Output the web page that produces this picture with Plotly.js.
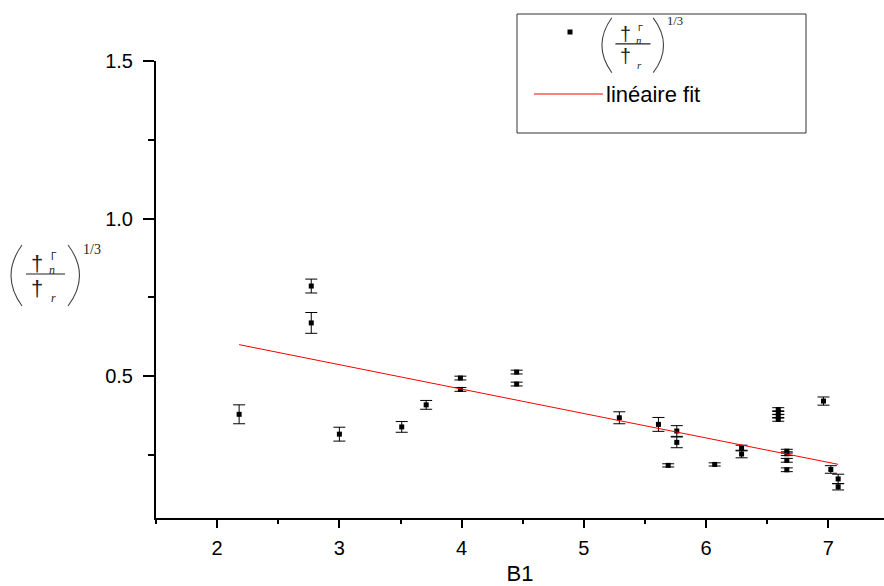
<!DOCTYPE html>
<html>
<head>
<meta charset="utf-8">
<script src="https://cdn.plot.ly/plotly-3.0.1.min.js"></script>
<style>html,body{margin:0;padding:0;background:#fff;}#chart{width:884px;height:586px;}</style>
</head>
<body>
<div id="chart"></div>
<script>
// ---- data ----
const xVals = [2.18, 2.77, 2.77, 3.00, 3.51, 3.71, 3.99, 3.99, 4.45, 4.45, 5.29, 5.61, 5.69, 5.76, 5.76, 6.07, 6.29, 6.29, 6.59, 6.59, 6.59, 6.59, 6.66, 6.66, 6.66, 6.66, 6.96, 7.02, 7.08, 7.08];
const yVals = [0.379, 0.786, 0.669, 0.316, 0.339, 0.409, 0.494, 0.458, 0.513, 0.475, 0.368, 0.347, 0.217, 0.326, 0.290, 0.220, 0.272, 0.253, 0.394, 0.384, 0.373, 0.363, 0.262, 0.254, 0.233, 0.203, 0.421, 0.204, 0.174, 0.149];
const yErr  = [0.030, 0.022, 0.033, 0.022, 0.017, 0.014, 0.006, 0.006, 0.006, 0.006, 0.019, 0.022, 0.005, 0.017, 0.017, 0.005, 0.009, 0.012, 0.006, 0.006, 0.006, 0.006, 0.006, 0.006, 0.006, 0.006, 0.013, 0.012, 0.015, 0.010];
const fitIntercept = 0.769;
const fitSlope = -0.0775;
const xTitle = 'B1';
const fitLabel = 'linéaire fit';

// ---- layout geometry helpers (pixels -> paper) ----
const PL = 156, PW = 728, PT = 61, PH = 457;
const px = v => (v - PL) / PW;
const py = v => (PT + PH - v) / PH;

const xMin = Math.min(...xVals), xMax = Math.max(...xVals);
const fitX = [xMin, xMax];
const fitY = fitX.map(x => fitIntercept + fitSlope * x);

const shapes = [];
const annotations = [];

function expr(ox, oy, s) {
  const P = (x, y) => px(ox + x * s) + ',' + py(oy + y * s);
  const line = {color: '#444', width: 1.1};
  shapes.push({type: 'path', xref: 'paper', yref: 'paper', path: 'M' + P(22, 2) + ' Q' + P(0, 32.5) + ' ' + P(22, 63), line: line});
  shapes.push({type: 'path', xref: 'paper', yref: 'paper', path: 'M' + P(68, 2) + ' Q' + P(91, 32.5) + ' ' + P(68, 63), line: line});
  shapes.push({type: 'line', xref: 'paper', yref: 'paper', x0: px(ox + 26 * s), x1: px(ox + 65 * s), y0: py(oy + 31 * s), y1: py(oy + 31 * s), line: {color: '#222', width: 1.2}});
  const A = (x, y, text, size, fam) => annotations.push({xref: 'paper', yref: 'paper', x: px(ox + x * s), y: py(oy + y * s), text: text, showarrow: false, xanchor: 'center', yanchor: 'middle', borderpad: 0, font: {family: fam, size: size * s, color: '#222'}});
  A(37, 20, '†', 22, 'Liberation Sans, Arial, sans-serif');
  A(54, 13, 'Γ', 10, 'Liberation Sans, Arial, sans-serif');
  A(52, 27, '<i>n</i>', 12, 'Liberation Serif, Times New Roman, serif');
  A(37, 45, '†', 22, 'Liberation Sans, Arial, sans-serif');
  A(53, 55, '<i>r</i>', 12, 'Liberation Serif, Times New Roman, serif');
  A(92, 6, '1/3', 14, 'Liberation Serif, Times New Roman, serif');
}

// y-axis title expression
expr(0, 243, 1);
// legend box
shapes.push({type: 'rect', xref: 'paper', yref: 'paper', x0: px(517), x1: px(806), y0: py(14), y1: py(133), line: {color: '#333', width: 1}, fillcolor: 'rgba(0,0,0,0)'});
// legend samples
shapes.push({type: 'rect', xref: 'paper', yref: 'paper', x0: px(567.5), x1: px(572.5), y0: py(29.5), y1: py(34.5), line: {width: 0}, fillcolor: '#000'});
shapes.push({type: 'line', xref: 'paper', yref: 'paper', x0: px(534), x1: px(603), y0: py(94), y1: py(94), line: {color: '#ff0000', width: 1}});
expr(592, 16, 0.9);
annotations.push({xref: 'paper', yref: 'paper', x: px(604), y: py(94), text: fitLabel, showarrow: false, xanchor: 'left', yanchor: 'middle', font: {family: 'Liberation Sans, Arial, sans-serif', size: 22, color: '#000'}});

const traces = [
  {
    x: xVals, y: yVals, type: 'scatter', mode: 'markers',
    marker: {symbol: 'square', size: 5, color: '#000'},
    error_y: {type: 'data', array: yErr, visible: true, color: '#000', thickness: 1, width: 6},
    showlegend: false, hoverinfo: 'x+y'
  },
  {
    x: fitX, y: fitY, type: 'scatter', mode: 'lines',
    line: {color: '#ff0000', width: 1}, showlegend: false
  }
];

const tickFont = {family: 'Liberation Sans, Arial, sans-serif', size: 20, color: '#000'};
const layout = {
  width: 884, height: 586,
  margin: {l: PL, r: 0, t: PT, b: 586 - PT - PH, pad: 0},
  paper_bgcolor: '#fff', plot_bgcolor: '#fff',
  showlegend: false,
  xaxis: {
    range: [1.5, 7.455], showgrid: false, zeroline: false,
    showline: true, linecolor: '#000', linewidth: 2,
    ticks: 'outside', ticklen: 8, tickwidth: 2, tickcolor: '#000',
    tick0: 0, dtick: 1, tickfont: tickFont, ticklabelstandoff: 3,
    minor: {dtick: 0.5, tick0: 0, ticks: 'outside', ticklen: 4, tickwidth: 2, tickcolor: '#000'},
    title: {text: xTitle, font: {family: 'Liberation Sans, Arial, sans-serif', size: 22, color: '#000'}, standoff: 20},
    automargin: false
  },
  yaxis: {
    range: [0.05, 1.5], showgrid: false, zeroline: false,
    showline: true, linecolor: '#000', linewidth: 2,
    ticks: 'outside', ticklen: 11, tickwidth: 2, tickcolor: '#000',
    tick0: 0, dtick: 0.5, tickformat: '.1f', tickfont: tickFont, ticklabelstandoff: 6,
    minor: {dtick: 0.25, tick0: 0, ticks: 'outside', ticklen: 6, tickwidth: 2, tickcolor: '#000'},
    automargin: false
  },
  shapes: shapes,
  annotations: annotations
};

Plotly.newPlot('chart', traces, layout, {displayModeBar: false, staticPlot: true});
</script>
</body>
</html>
